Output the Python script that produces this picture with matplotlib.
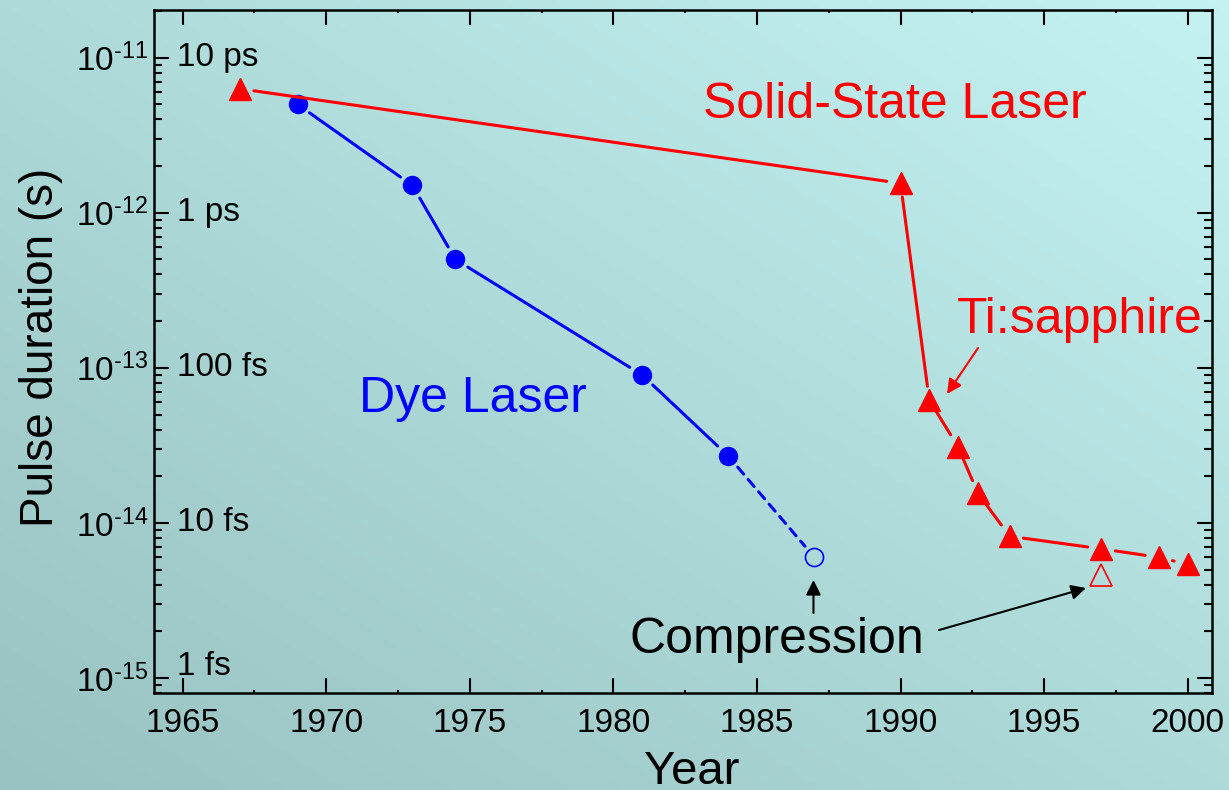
import numpy as np
import matplotlib.pyplot as plt
import matplotlib.transforms as mtransforms
from matplotlib.ticker import FixedLocator, MultipleLocator, LogLocator, NullFormatter

plt.rcParams['font.family'] = 'Liberation Sans'
plt.rcParams['mathtext.fontset'] = 'custom'
plt.rcParams['mathtext.rm'] = 'Liberation Sans'
plt.rcParams['mathtext.it'] = 'Liberation Sans:italic'
plt.rcParams['mathtext.bf'] = 'Liberation Sans:bold'

# Dye laser record pulse durations
dye_years = [1969, 1973, 1974.5, 1981, 1984]
dye_pulse = [5e-12, 1.5e-12, 5e-13, 9e-14, 2.7e-14]
dye_comp_year = 1987
dye_comp_pulse = 6e-15

# Solid-state / Ti:sapphire record pulse durations
solid_years = [1967, 1990, 1991, 1992, 1992.7, 1993.8, 1997, 1999, 2000]
solid_pulse = [6.3e-12, 1.55e-12, 6.2e-14, 3.1e-14, 1.55e-14, 8.2e-15, 6.8e-15, 6.0e-15, 5.4e-15]
solid_comp_year = 1997
solid_comp_pulse = 4.6e-15

pulse_ticks = [1e-15, 1e-14, 1e-13, 1e-12, 1e-11]
pulse_ticklabels = [r'$\mathregular{10^{\text{-}15}}$', r'$\mathregular{10^{\text{-}14}}$',
                    r'$\mathregular{10^{\text{-}13}}$', r'$\mathregular{10^{\text{-}12}}$',
                    r'$\mathregular{10^{\text{-}11}}$']
unit_labels = ['1 fs', '10 fs', '100 fs', '1 ps', '10 ps']

fig = plt.figure(figsize=(12.29, 7.9), dpi=100)

# diagonal teal gradient background
bg = fig.add_axes([0, 0, 1, 1])
xx, yy = np.meshgrid(np.linspace(0, 1, 300), np.linspace(1, 0, 200))
u = (xx + yy) / 2
c0 = np.array([0.60, 0.76, 0.76])
c1 = np.array([0.77, 0.95, 0.95])
bg.imshow(c0 + (c1 - c0) * u[..., None], aspect='auto', extent=[0, 1, 0, 1])
bg.axis('off')

ax = fig.add_axes([0.1253, 0.1228, 0.8609, 0.8645])
ax.set_facecolor('none')
ax.set_yscale('log')
ax.set_xlim(1964, 2000.85)
ax.set_ylim(8e-16, 2.03e-11)


def connect(xs, ys, color, shrink, ls='-', z=2):
    # segments stop short of the markers, Origin style
    for i in range(len(xs) - 1):
        ax.annotate('', xy=(xs[i + 1], ys[i + 1]), xytext=(xs[i], ys[i]),
                    arrowprops=dict(arrowstyle='-', color=color, lw=2.2, ls=ls,
                                    shrinkA=shrink, shrinkB=shrink), zorder=z)


# dye laser
connect(dye_years, dye_pulse, 'blue', 10.5)
connect([dye_years[-1], dye_comp_year], [dye_pulse[-1], dye_comp_pulse], 'blue', 10.5,
        ls=(0, (3, 2.3)))
ax.plot(dye_years, dye_pulse, color='blue', ls='none', marker='o', ms=13, zorder=3)
ax.plot([dye_comp_year], [dye_comp_pulse], marker='o', ms=13, mfc='none', mec='blue',
        mew=1.2, ls='none')

# solid state
connect(solid_years, solid_pulse, 'red', 10, z=4)
ax.plot(solid_years, solid_pulse, color='red', ls='none', marker='^', ms=16, zorder=4)
ax.plot([solid_comp_year], [solid_comp_pulse], marker='^', ms=16, mfc='none', mec='red',
        mew=1.2, ls='none')

ax.xaxis.set_major_locator(MultipleLocator(5))
ax.xaxis.set_minor_locator(MultipleLocator(2.5))
ax.yaxis.set_major_locator(FixedLocator(pulse_ticks))
ax.yaxis.set_minor_locator(LogLocator(base=10, subs=np.arange(2, 10)))
ax.yaxis.set_minor_formatter(NullFormatter())
ax.set_yticklabels(pulse_ticklabels)

ax.tick_params(which='both', direction='in', top=True, right=True, width=1.5)
ax.tick_params(which='major', length=11)
ax.tick_params(axis='y', which='minor', length=5.5)
ax.tick_params(axis='x', which='minor', length=2)
ax.tick_params(axis='x', labelsize=24, pad=11)
ax.tick_params(axis='y', labelsize=24, pad=4)
for s in ax.spines.values():
    s.set_linewidth(1.8)

# unit labels inside the left axis
trans = mtransforms.blended_transform_factory(ax.transAxes, ax.transData)
for v, lab in zip(pulse_ticks, unit_labels):
    dy = 8 if v == pulse_ticks[0] else 0
    ax.annotate(lab, (0.022, v), xycoords=trans, xytext=(0, dy), textcoords='offset points',
                ha='left', va='center', fontsize=24)

ax.set_xlabel('Year', fontsize=34)
ax.xaxis.set_label_coords(0.508, -0.084)
ax.set_ylabel('Pulse duration (s)', fontsize=33)
ax.yaxis.set_label_coords(-0.086, 0.506)

ax.text(0.7004, 0.8419, 'Solid-State Laser', color='red', fontsize=36, ha='center',
        va='baseline', transform=ax.transAxes)
ax.text(0.8752, 0.5271, 'Ti:sapphire', color='red', fontsize=36, ha='center',
        va='baseline', transform=ax.transAxes)
ax.text(0.3015, 0.4114, 'Dye Laser', color='blue', fontsize=36, ha='center',
        va='baseline', transform=ax.transAxes)
ax.text(0.5889, 0.0586, 'Compression', color='black', fontsize=36, ha='center',
        va='baseline', transform=ax.transAxes)

arrow = dict(arrowstyle='-|>', color='black', lw=1.5, mutation_scale=22, shrinkA=0, shrinkB=0)
ax.annotate('', xy=(0.6233, 0.1654), xytext=(0.6233, 0.1171), xycoords='axes fraction',
            arrowprops=arrow)
ax.annotate('', xy=(0.881, 0.1537), xytext=(0.742, 0.0922), xycoords='axes fraction',
            arrowprops=arrow)
ax.annotate('', xy=(0.7495, 0.4378), xytext=(0.7788, 0.5051), xycoords='axes fraction',
            arrowprops=dict(arrow, color='red'))

fig.savefig('out.png', dpi=100)
